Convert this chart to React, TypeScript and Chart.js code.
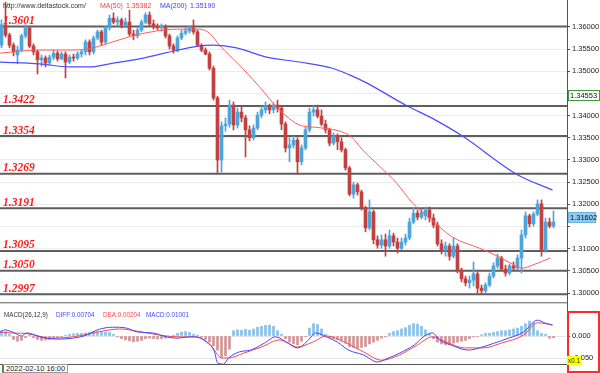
import React, { useEffect, useRef } from 'react';
import { Chart, registerables } from 'chart.js';
Chart.register(...registerables);

// ---------- price data (4h candles) ----------
const OPEN = [
  1.3559,1.3605,1.3582,1.3559,1.3537,1.3548,1.3580,1.3598,1.3557,1.3544,
  1.3526,1.3530,1.3519,1.3532,1.3541,1.3528,1.3539,1.3521,1.3532,1.3530,
  1.3539,1.3544,1.3566,1.3544,1.3575,1.3589,1.3566,1.3598,1.3620,1.3611,
  1.3616,1.3605,1.3611,1.3584,1.3580,1.3593,1.3611,1.3627,1.3607,1.3602,
  1.3598,1.3602,1.3580,1.3557,1.3548,1.3575,1.3586,1.3591,1.3598,1.3589,
  1.3559,1.3548,1.3539,1.3507,1.3440,1.3300,1.3377,1.3381,1.3424,1.3379,
  1.3408,1.3395,1.3368,1.3350,1.3372,1.3401,1.3413,1.3422,1.3413,1.3424,
  1.3417,1.3381,1.3327,1.3334,1.3345,1.3296,1.3327,1.3368,1.3408,1.3413,
  1.3399,1.3381,1.3368,1.3338,1.3354,1.3341,1.3323,1.3282,1.3223,1.3244,
  1.3228,1.3192,1.3147,1.3183,1.3120,1.3108,1.3120,1.3106,1.3129,1.3115,
  1.3101,1.3115,1.3124,1.3160,1.3180,1.3171,1.3174,1.3187,1.3169,1.3153,
  1.3111,1.3097,1.3106,1.3083,1.3106,1.3052,1.3032,1.3023,1.3029,1.3043,
  1.3011,1.3005,1.3018,1.3038,1.3061,1.3079,1.3054,1.3045,1.3061,1.3056,
  1.3079,1.3131,1.3174,1.3156,1.3178,1.3201,1.3097,1.3160,1.3151,
];
const HIGH = [
  1.3616,1.3656,1.3586,1.3564,1.3557,1.3584,1.3605,1.3602,1.3562,1.3548,
  1.3537,1.3535,1.3537,1.3548,1.3546,1.3544,1.3544,1.3537,1.3539,1.3544,
  1.3548,1.3571,1.3571,1.3580,1.3593,1.3593,1.3602,1.3627,1.3632,1.3623,
  1.3620,1.3620,1.3638,1.3593,1.3598,1.3616,1.3632,1.3634,1.3616,1.3607,
  1.3607,1.3605,1.3584,1.3562,1.3580,1.3593,1.3598,1.3602,1.3616,1.3593,
  1.3562,1.3553,1.3544,1.3512,1.3444,1.3386,1.3395,1.3435,1.3431,1.3417,
  1.3422,1.3401,1.3377,1.3379,1.3408,1.3422,1.3431,1.3426,1.3429,1.3435,
  1.3422,1.3386,1.3350,1.3354,1.3350,1.3334,1.3374,1.3417,1.3422,1.3424,
  1.3413,1.3390,1.3372,1.3361,1.3359,1.3350,1.3327,1.3286,1.3250,1.3248,
  1.3232,1.3196,1.3210,1.3187,1.3129,1.3131,1.3133,1.3142,1.3135,1.3124,
  1.3124,1.3133,1.3169,1.3192,1.3187,1.3189,1.3194,1.3194,1.3178,1.3160,
  1.3120,1.3115,1.3111,1.3124,1.3111,1.3056,1.3038,1.3038,1.3070,1.3047,
  1.3018,1.3023,1.3045,1.3068,1.3088,1.3083,1.3063,1.3065,1.3070,1.3086,
  1.3142,1.3183,1.3178,1.3183,1.3210,1.3210,1.3169,1.3169,1.3185,
];
const LOW = [
  1.3553,1.3577,1.3553,1.3535,1.3517,1.3544,1.3575,1.3553,1.3537,1.3494,
  1.3512,1.3510,1.3514,1.3526,1.3523,1.3526,1.3485,1.3517,1.3523,1.3526,
  1.3532,1.3537,1.3537,1.3539,1.3571,1.3559,1.3562,1.3593,1.3607,1.3602,
  1.3598,1.3598,1.3580,1.3571,1.3575,1.3589,1.3607,1.3602,1.3595,1.3593,
  1.3591,1.3575,1.3550,1.3541,1.3544,1.3571,1.3582,1.3586,1.3584,1.3557,
  1.3544,1.3537,1.3503,1.3435,1.3271,1.3273,1.3365,1.3374,1.3368,1.3372,
  1.3386,1.3307,1.3343,1.3345,1.3368,1.3395,1.3406,1.3404,1.3406,1.3408,
  1.3368,1.3318,1.3296,1.3327,1.3268,1.3289,1.3323,1.3363,1.3399,1.3395,
  1.3377,1.3361,1.3332,1.3334,1.3323,1.3318,1.3277,1.3219,1.3214,1.3221,
  1.3187,1.3138,1.3142,1.3111,1.3101,1.3101,1.3083,1.3101,1.3106,1.3090,
  1.3097,1.3108,1.3120,1.3156,1.3165,1.3167,1.3165,1.3160,1.3147,1.3106,
  1.3088,1.3083,1.3074,1.3079,1.3045,1.3025,1.3016,1.3011,1.3016,1.3000,
  1.2998,1.3000,1.3014,1.3034,1.3056,1.3050,1.3038,1.3041,1.3052,1.3052,
  1.3045,1.3124,1.3149,1.3151,1.3174,1.3083,1.3092,1.3147,1.3147,
];
const CLOSE = [
  1.3605,1.3582,1.3559,1.3544,1.3548,1.3580,1.3598,1.3557,1.3544,1.3526,
  1.3530,1.3519,1.3532,1.3541,1.3528,1.3539,1.3521,1.3532,1.3530,1.3539,
  1.3544,1.3566,1.3544,1.3575,1.3589,1.3566,1.3598,1.3620,1.3611,1.3616,
  1.3605,1.3611,1.3584,1.3580,1.3593,1.3611,1.3627,1.3607,1.3602,1.3598,
  1.3602,1.3580,1.3557,1.3548,1.3575,1.3586,1.3591,1.3598,1.3589,1.3559,
  1.3548,1.3539,1.3507,1.3440,1.3300,1.3377,1.3381,1.3424,1.3379,1.3408,
  1.3395,1.3368,1.3350,1.3372,1.3401,1.3413,1.3422,1.3413,1.3424,1.3417,
  1.3381,1.3327,1.3334,1.3345,1.3296,1.3327,1.3368,1.3408,1.3413,1.3399,
  1.3381,1.3368,1.3338,1.3354,1.3341,1.3323,1.3282,1.3223,1.3244,1.3228,
  1.3192,1.3147,1.3183,1.3120,1.3108,1.3120,1.3106,1.3129,1.3115,1.3101,
  1.3115,1.3124,1.3160,1.3180,1.3171,1.3183,1.3187,1.3169,1.3153,1.3111,
  1.3097,1.3106,1.3083,1.3106,1.3052,1.3032,1.3023,1.3029,1.3043,1.3011,
  1.3005,1.3018,1.3038,1.3061,1.3079,1.3054,1.3045,1.3061,1.3056,1.3079,
  1.3131,1.3174,1.3156,1.3178,1.3201,1.3097,1.3160,1.3151,1.3160,
];

// ---------- moving averages (read at candle positions) ----------
const MA50_X = [-0.5, 9.5, 16.25, 21.25, 27, 32.75, 38.75, 43.75, 49.5, 52, 54.5, 59.5, 64.5, 69.5, 74.5, 78.25, 82, 85.25, 87.5, 90.25, 94.5, 98.75, 102.75, 107, 112.75, 119.5, 124.5, 127.75, 130.25, 132.75, 137.25];
const MA50_Y = [1.3541, 1.3548, 1.3548, 1.3550, 1.3564, 1.3580, 1.3591, 1.3595, 1.3595, 1.3586, 1.3559, 1.3514, 1.3465, 1.3413, 1.3379, 1.3374, 1.3370, 1.3363, 1.3352, 1.3323, 1.3286, 1.3248, 1.3203, 1.3169, 1.3126, 1.3101, 1.3081, 1.3065, 1.3056, 1.3063, 1.3079];
const MA200_X = [-0.5, 9.5, 17, 22, 27, 34.5, 40.75, 49.25, 53, 58.75, 66.25, 74.5, 82.75, 87, 91.25, 101, 108.5, 115.25, 128.75, 137.75];
const MA200_Y = [1.3521, 1.3517, 1.3510, 1.3510, 1.3517, 1.3528, 1.3541, 1.3557, 1.3559, 1.3553, 1.3532, 1.3521, 1.3507, 1.3492, 1.3474, 1.3424, 1.3390, 1.3354, 1.3268, 1.3232];

// ---------- support / resistance levels ----------
const LEVELS = [1.3601, 1.3422, 1.3354, 1.3269, 1.3191, 1.3095, 1.3050, 1.2997];
const LEVEL_LABELS = ['1.3601', '1.3422', '1.3354', '1.3269', '1.3191', '1.3095', '1.3050', '1.2997'];
const PRICE_TICKS = [1.30, 1.305, 1.31, 1.315, 1.32, 1.325, 1.33, 1.335, 1.34, 1.345, 1.35, 1.355, 1.36];
const MARKER_VALUES = [1.34553, 1.31602];
const MARKER_LABELS = ['1.34553', '1.31602'];

// ---------- MACD (display units, x0.1) ----------
const DIFF_X = [-0.5, 0.75, 3.25, 5, 6.25, 8.5, 11.25, 14, 17.75, 21.25, 24, 27.75, 31.25, 34, 37.75, 41.25, 44, 46.75, 48.5, 51.25, 53.25, 54, 55.5, 56.75, 59.5, 62.25, 65.75, 68.5, 71.25, 74, 76.75, 78.5, 81.25, 84, 86.75, 90.5, 94, 96.75, 99.5, 103.25, 105.75, 107.75, 109.5, 112.25, 116.75, 119.5, 123.25, 126.75, 130.5, 134, 135.75, 137.75];
const DIFF_Y = [0.007, 0.014, 0.007, 0, 0.007, 0.002, -0.005, -0.007, -0.005, 0.002, 0.014, 0.020, 0.018, 0.009, 0.007, -0.002, -0.005, -0.002, -0.002, -0.014, -0.036, -0.061, -0.064, -0.05, -0.036, -0.032, -0.016, -0.002, -0.014, -0.027, -0.009, 0.007, -0.002, -0.014, -0.032, -0.043, -0.059, -0.05, -0.039, -0.020, 0, 0.007, -0.009, -0.020, -0.032, -0.027, -0.016, -0.005, 0.009, 0.036, 0.030, 0.025];
const DEA_X = [-0.5, 2.25, 6.75, 11.25, 17.75, 24, 29.5, 34, 39.5, 45, 48.5, 52.25, 55, 56.75, 60.5, 65, 69.5, 74, 77.75, 81.25, 85.75, 90.5, 95, 99.5, 104, 107.75, 111.25, 115.75, 120.5, 125, 130.5, 134, 137.75];
const DEA_Y = [0.009, 0.007, 0.005, -0.005, -0.002, 0.009, 0.016, 0.011, 0.002, -0.002, -0.002, -0.020, -0.05, -0.05, -0.039, -0.025, -0.009, -0.025, -0.014, 0, -0.014, -0.036, -0.055, -0.043, -0.020, -0.002, -0.014, -0.027, -0.027, -0.016, 0.002, 0.030, 0.025];
const HIST = [
  0.012,0.010,0.004,-0.008,-0.012,-0.010,-0.004,0.003,-0.004,-0.008,
  -0.010,-0.009,-0.008,-0.006,-0.004,-0.002,0.002,0.004,0.005,0.006,
  0.006,0.007,0.008,0.010,0.011,0.010,0.009,0.008,0.004,-0.002,
  -0.006,-0.009,-0.011,-0.013,-0.012,-0.010,-0.006,-0.005,-0.006,-0.007,
  -0.006,-0.005,-0.003,0.002,0.006,0.009,0.010,0.008,0.004,0.002,
  -0.003,-0.008,-0.014,-0.022,-0.032,-0.048,-0.045,-0.030,0.012,0.014,
  0.013,0.015,0.013,0.016,0.020,0.022,0.024,0.025,0.022,0.012,
  0.004,-0.006,-0.014,-0.018,-0.020,-0.012,-0.002,0.018,0.028,0.026,
  0.016,0.004,-0.004,-0.006,-0.008,-0.010,-0.016,-0.024,-0.026,-0.028,
  -0.026,-0.024,-0.018,-0.014,-0.010,-0.005,-0.002,0.006,0.010,0.012,
  0.016,0.019,0.024,0.028,0.027,0.022,0.014,0.004,-0.006,-0.014,
  -0.018,-0.020,-0.020,-0.016,-0.014,-0.012,-0.010,-0.006,-0.002,-0.001,
  0.003,0.006,0.006,0.008,0.010,0.012,0.012,0.014,0.016,0.018,
  0.022,0.028,0.034,0.030,0.012,0.006,0.004,-0.005,-0.004,
];
const MACD_TICKS = [-0.05, 0];

// ---------- view ranges ----------
const X_MIN = -0.375;
const X_MAX = 141.375;
const PRICE_MIN = 1.29797;
const PRICE_MAX = 1.36609;
const MACD_MIN = -0.0636;
const MACD_MAX = 0.0727;

const BLUE = '#4ea5dc';
const RED = '#c0413f';
const FONT = '"Liberation Sans", Arial, sans-serif';

const mainOverlay = {
  id: 'mainOverlay',
  afterDatasetsDraw(chart: any) {
    const { ctx, scales } = chart;
    const y = scales.y;
    ctx.save();
    ctx.font = 'italic bold 11.5px "Liberation Serif", "Times New Roman", serif';
    ctx.fillStyle = '#ff1a1a';
    ctx.textBaseline = 'alphabetic';
    LEVELS.forEach((v, i) => {
      ctx.fillText(LEVEL_LABELS[i], 3, y.getPixelForValue(v) - 2.5);
    });
    ctx.restore();
  },
  afterDraw(chart: any) {
    const { ctx, scales, chartArea } = chart;
    const y = scales.y;
    ctx.save();
    ctx.fillStyle = '#888';
    ctx.fillRect(0, chartArea.bottom, chartArea.right, 1);
    const styles = [
      { fill: '#ffffff', stroke: '#3c9c3c', dy: 4, w: 32 },
      { fill: '#8ecbee', stroke: '#6cb3df', dy: -5, w: 28 },
    ];
    ctx.font = '7.5px ' + FONT;
    ctx.textBaseline = 'middle';
    MARKER_VALUES.forEach((v, i) => {
      const st = styles[i];
      const yc = Math.round(y.getPixelForValue(v) + st.dy);
      const x0 = chartArea.right + 1;
      ctx.fillStyle = st.fill;
      ctx.fillRect(x0, yc - 5, st.w, 11);
      ctx.strokeStyle = st.stroke;
      ctx.lineWidth = 1;
      ctx.strokeRect(x0 + 0.5, yc - 4.5, st.w - 1, 10);
      ctx.fillStyle = '#111';
      ctx.fillText(MARKER_LABELS[i], x0 + 2, yc + 0.5);
    });
    ctx.restore();
  },
};

const macdOverlay = {
  id: 'macdOverlay',
  afterDraw(chart: any) {
    const { ctx, chartArea } = chart;
    ctx.save();
    ctx.fillStyle = '#d0d0d0';
    ctx.fillRect(0, 0, chartArea.right, 1);
    ctx.fillStyle = '#555';
    ctx.fillRect(0, chartArea.bottom, chartArea.right, 1);
    ctx.restore();
  },
};

export default function App() {
  const mainRef = useRef<HTMLCanvasElement>(null);
  const macdRef = useRef<HTMLCanvasElement>(null);

  useEffect(() => {
    const idx = OPEN.map((_, i) => i);
    const colors = idx.map((i) => (CLOSE[i] >= OPEN[i] ? BLUE : RED));

    const levelSets = LEVELS.map((v) => ({
      type: 'line' as const,
      data: [{ x: X_MIN, y: v }, { x: X_MAX, y: v }],
      borderColor: '#5e5e5e',
      borderWidth: 2,
      pointRadius: 0,
      order: 10,
    }));

    const main = new Chart(mainRef.current as HTMLCanvasElement, {
      type: 'bar',
      data: {
        datasets: [
          ...levelSets,
          {
            type: 'bar',
            data: idx.map((i) => ({ x: i, y: [LOW[i], HIGH[i]] })),
            backgroundColor: colors,
            barThickness: 1,
            grouped: false,
            order: 5,
          },
          {
            type: 'bar',
            data: idx.map((i) => ({ x: i, y: [OPEN[i], CLOSE[i]] })),
            backgroundColor: colors,
            barThickness: 3,
            minBarLength: 1,
            grouped: false,
            order: 4,
          },
          {
            type: 'line',
            data: MA50_X.map((x, k) => ({ x, y: MA50_Y[k] })),
            borderColor: '#ff5c5c',
            borderWidth: 1,
            pointRadius: 0,
            cubicInterpolationMode: 'monotone',
            order: 2,
          },
          {
            type: 'line',
            data: MA200_X.map((x, k) => ({ x, y: MA200_Y[k] })),
            borderColor: '#4c4cff',
            borderWidth: 1.2,
            pointRadius: 0,
            cubicInterpolationMode: 'monotone',
            order: 1,
          },
        ] as any,
      },
      options: {
        responsive: false,
        animation: false,
        devicePixelRatio: 1,
        layout: { padding: { top: 0, left: 0, right: 0, bottom: 1 } },
        plugins: { legend: { display: false }, tooltip: { enabled: false } },
        scales: {
          x: { type: 'linear', min: X_MIN, max: X_MAX, display: false, offset: false },
          y: {
            position: 'right',
            min: PRICE_MIN,
            max: PRICE_MAX,
            afterFit: (s: any) => { s.width = 33; s.paddingTop = 0; s.paddingBottom = 0; },
            afterBuildTicks: (s: any) => { s.ticks = PRICE_TICKS.map((value) => ({ value })); },
            ticks: {
              font: { family: FONT, size: 7.5 },
              color: '#222',
              padding: 2,
              callback: (v: any) =>
                MARKER_VALUES.some((m) => Math.abs(m - Number(v)) < 0.0012) ? '' : Number(v).toFixed(5),
            },
            grid: { color: '#ececec', lineWidth: 1, tickColor: '#555', tickLength: 3 },
            border: { display: true, color: '#555', width: 1 },
          },
        },
      } as any,
      plugins: [mainOverlay],
    });

    const macd = new Chart(macdRef.current as HTMLCanvasElement, {
      type: 'bar',
      data: {
        datasets: [
          {
            type: 'line',
            data: DIFF_X.map((x, k) => ({ x, y: DIFF_Y[k] })),
            borderColor: '#4646ff',
            borderWidth: 1,
            pointRadius: 0,
            cubicInterpolationMode: 'monotone',
            order: 1,
          },
          {
            type: 'line',
            data: DEA_X.map((x, k) => ({ x, y: DEA_Y[k] })),
            borderColor: '#ff4848',
            borderWidth: 1,
            pointRadius: 0,
            cubicInterpolationMode: 'monotone',
            order: 2,
          },
          {
            type: 'bar',
            data: HIST.map((v, i) => ({ x: i, y: v })),
            backgroundColor: HIST.map((v) => (v >= 0 ? '#86c1e6' : '#d39494')),
            barThickness: 2,
            grouped: false,
            order: 5,
          },
        ] as any,
      },
      options: {
        responsive: false,
        animation: false,
        devicePixelRatio: 1,
        layout: { padding: { top: 1, left: 0, right: 0, bottom: 9 } },
        plugins: { legend: { display: false }, tooltip: { enabled: false } },
        scales: {
          x: { type: 'linear', min: X_MIN, max: X_MAX, display: false, offset: false },
          y: {
            position: 'right',
            min: MACD_MIN,
            max: MACD_MAX,
            afterFit: (s: any) => { s.width = 33; s.paddingTop = 0; s.paddingBottom = 0; },
            afterBuildTicks: (s: any) => { s.ticks = MACD_TICKS.map((value) => ({ value })); },
            ticks: {
              font: { family: FONT, size: 7.5 },
              color: '#222',
              padding: 2,
              callback: (v: any) => Number(v).toFixed(3),
            },
            grid: { color: '#e6e6e6', lineWidth: 1, tickColor: '#555', tickLength: 3 },
            border: { display: true, color: '#555', width: 1 },
          },
        },
      } as any,
      plugins: [macdOverlay],
    });

    return () => {
      main.destroy();
      macd.destroy();
    };
  }, []);

  const small = (extra: React.CSSProperties): React.CSSProperties => ({
    position: 'absolute',
    fontFamily: FONT,
    fontSize: 7,
    lineHeight: '8px',
    whiteSpace: 'nowrap',
    ...extra,
  });

  return (
    <div
      style={{
        position: 'absolute',
        left: 0,
        top: 0,
        width: 600,
        height: 373,
        background: '#ffffff',
        overflow: 'hidden',
      }}
    >
      <canvas ref={mainRef} width={600} height={303} style={{ position: 'absolute', left: 0, top: 0, width: 600, height: 303 }} />
      <canvas ref={macdRef} width={600} height={70} style={{ position: 'absolute', left: 0, top: 303, width: 600, height: 70 }} />

      <div style={small({ left: 3, top: 2, color: '#333' })}>http://www.deltastock.com/</div>
      <div style={small({ left: 100, top: 2, color: '#ff3d3d' })}>MA(50)</div>
      <div style={small({ left: 126, top: 2, color: '#ff3d3d' })}>1.35382</div>
      <div style={small({ left: 160, top: 2, color: '#3d3dff' })}>MA(200)</div>
      <div style={small({ left: 190, top: 2, color: '#3d3dff' })}>1.35190</div>

      <div style={small({ left: 4, top: 311, color: '#333', fontSize: 6.3 })}>MACD(26,12,9)</div>
      <div style={small({ left: 56, top: 311, color: '#4646ff', fontSize: 6.3 })}>DIFF:0.00704</div>
      <div style={small({ left: 103, top: 311, color: '#ff4848', fontSize: 6.3 })}>DEA:0.00204</div>
      <div style={small({ left: 146, top: 311, color: '#4646ff', fontSize: 6.3 })}>MACD:0.01001</div>

      <div style={{ position: 'absolute', left: 567, top: 0, width: 1, height: 373, background: '#555' }} />
      <div
        style={{
          position: 'absolute',
          left: 567,
          top: 311,
          width: 33,
          height: 62,
          boxSizing: 'border-box',
          border: '2px solid #ff2a2a',
        }}
      />
      <div
        style={small({
          left: 567,
          top: 356,
          width: 14,
          height: 9,
          background: '#ffff00',
          color: '#333',
          fontSize: 6.5,
          lineHeight: '9px',
          textAlign: 'center',
        })}
      >
        x0.1
      </div>
      <div
        style={small({
          left: 2,
          top: 364,
          height: 9,
          padding: '0 2px',
          boxSizing: 'border-box',
          border: '1px solid #999',
          borderLeft: '2px solid #4a8a4a',
          background: '#ffffff',
          color: '#222',
          fontSize: 7.5,
          lineHeight: '8px',
        })}
      >
        2022-02-10 16:00
      </div>
    </div>
  );
}
